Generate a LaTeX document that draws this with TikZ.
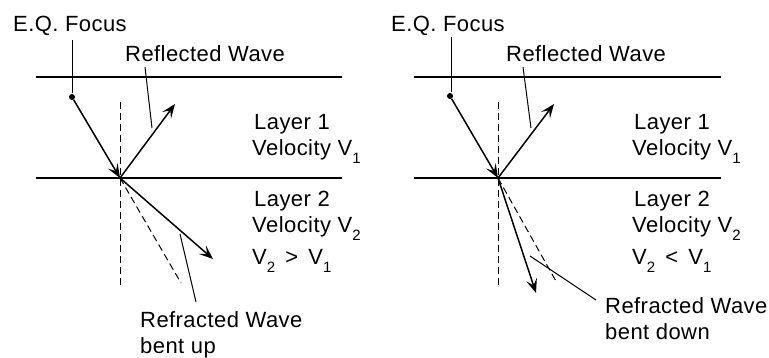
\documentclass[tikz,border=0pt]{standalone}
\usepackage{fontspec}
\setmainfont[LetterSpace=2]{Liberation Sans}
\usetikzlibrary{arrows.meta}
\newcommand{\sbs}[1]{\raisebox{-0.32em}{\fontsize{15}{15}\selectfont #1}}
\begin{document}
\begin{tikzpicture}[x=1pt,y=-1pt,
  lbl/.style={anchor=base west,inner sep=0pt,font=\fontsize{22}{24}\selectfont},
  bnd/.style={line width=1.1pt},
  lead/.style={line width=1pt},
  ray/.style={line width=1.5pt,-{Stealth[length=14pt,width=11pt,inset=6pt]}},
  norm/.style={line width=1pt,dash pattern=on 7pt off 4pt},
  dotn/.style={circle,fill=black,inner sep=0pt,minimum size=6pt}]
\useasboundingbox (0,0) rectangle (769,358);
\fill[white] (0,0) rectangle (769,358);
% ---------- left panel ----------
\draw[bnd] (36,77) coordinate (LtA) -- (342,77) coordinate (LtB);
\draw[bnd] (36,178) coordinate (LbA) -- (342,178) coordinate (LbB);
\node[lbl] (Lfoc) at (13,32) {E.Q. Focus};
\node[lbl] (Lrefl) at (125,62) {Reflected Wave};
\node[lbl] (Ll1) at (254,130) {Layer 1};
\node[lbl] (Lv1) at (252,156) {Velocity V\sbs{1}};
\node[lbl] (Ll2) at (254,207) {Layer 2};
\node[lbl] (Lv2) at (252,233) {Velocity V\sbs{2}};
\node[lbl] (Lc) at (252,265) {V\sbs{2} \,>\, V\sbs{1}};
\node[lbl] (Lrefr) at (140,327) {Refracted Wave};
\node[lbl] (Lbent) at (140,353) {bent up};
\node[dotn] (Ldot) at (72,97) {};
\coordinate (Li) at (120,178);
\coordinate (Lr) at (175,104);
\coordinate (Lt) at (213,259);
\coordinate (Ld) at (181,283);
\coordinate (Ln1) at (120,102);
\coordinate (Ln2) at (120,285);
\draw[norm] (Ln1) -- (Ln2);
\draw[norm] (Li) -- (Ld);
\draw[ray] (Ldot) -- (Li);
\draw[ray] (Li) -- (Lr);
\draw[ray] (Li) -- (Lt);
\coordinate (Lq1) at (72,40); \coordinate (Lq2) at (72,93);
\draw[lead] (Lq1) -- (Lq2);
\coordinate (Lw1) at (145,67); \coordinate (Lw2) at (152,128);
\draw[lead] (Lw1) -- (Lw2);
\coordinate (Lx1) at (180,234); \coordinate (Lx2) at (196,302);
\draw[lead] (Lx1) -- (Lx2);
% ---------- right panel ----------
\draw[bnd] (414,77) coordinate (RtA) -- (721,77) coordinate (RtB);
\draw[bnd] (414,178) coordinate (RbA) -- (721,178) coordinate (RbB);
\node[lbl] (Rfoc) at (391,32) {E.Q. Focus};
\node[lbl] (Rrefl) at (506,62) {Reflected Wave};
\node[lbl] (Rl1) at (634,130) {Layer 1};
\node[lbl] (Rv1) at (632,156) {Velocity V\sbs{1}};
\node[lbl] (Rl2) at (634,207) {Layer 2};
\node[lbl] (Rv2) at (632,233) {Velocity V\sbs{2}};
\node[lbl] (Rc) at (632,265) {V\sbs{2} \,<\, V\sbs{1}};
\node[lbl] (Rrefr) at (605,313) {Refracted Wave};
\node[lbl] (Rbent) at (605,340) {bent down};
\node[dotn] (Rdot) at (450,96) {};
\coordinate (Ri) at (498,178);
\coordinate (Rr) at (554,104);
\coordinate (Rt) at (536,293);
\coordinate (Rd) at (557,283);
\coordinate (Rn1) at (498,102);
\coordinate (Rn2) at (498,285);
\draw[norm] (Rn1) -- (Rn2);
\draw[norm] (Ri) -- (Rd);
\draw[ray] (Rdot) -- (Ri);
\draw[ray] (Ri) -- (Rr);
\draw[ray] (Ri) -- (Rt);
\coordinate (Rq1) at (451,37); \coordinate (Rq2) at (451,92);
\draw[lead] (Rq1) -- (Rq2);
\coordinate (Rw1) at (523,67); \coordinate (Rw2) at (531,128);
\draw[lead] (Rw1) -- (Rw2);
\coordinate (Rx1) at (530,256); \coordinate (Rx2) at (596,300);
\draw[lead] (Rx1) -- (Rx2);
\end{tikzpicture}
\end{document}
